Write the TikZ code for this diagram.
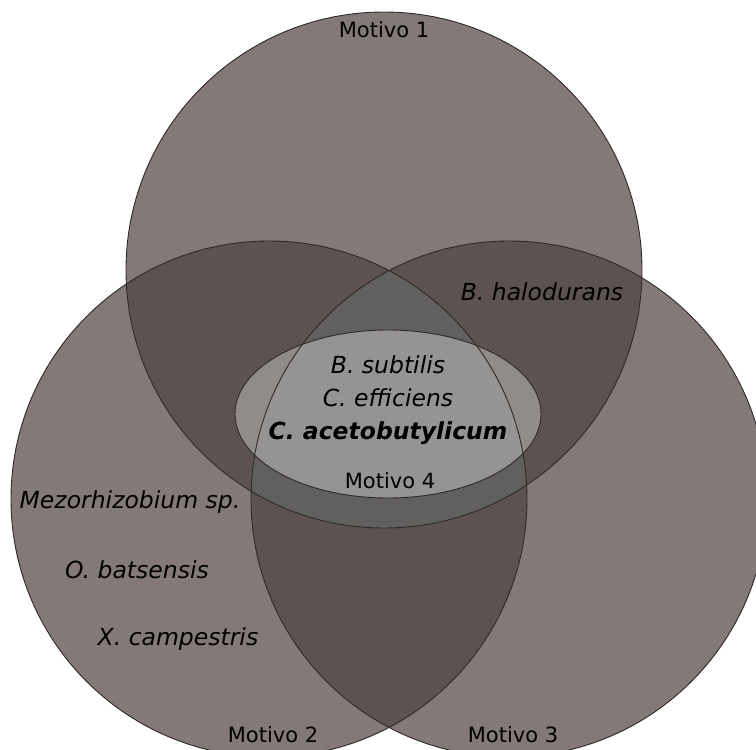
\documentclass[tikz,border=0pt]{standalone}
\usepackage{fontspec}
\setmainfont{DejaVu Sans}
\usetikzlibrary{positioning}

\definecolor{oneset}{HTML}{837A78}
\definecolor{twoset}{HTML}{5C5351}
\definecolor{threeset}{HTML}{62605F}
\definecolor{rim}{HTML}{2E2A29}

\begin{document}
\begin{tikzpicture}[
    x=1pt, y=-1pt,
    edge/.style={draw=rim, line width=0.9pt},
    mot/.style={font=\fontsize{21}{24}\selectfont, inner sep=1pt},
    sp/.style={font=\fontsize{23.5}{27}\selectfont\itshape, inner sep=2pt, text height=17pt, text depth=5pt}
]
    \useasboundingbox (0,0) rectangle (756,750);

    % Circle centres
    \coordinate (c1) at (384,270);
    \coordinate (c2) at (269,499);
    \coordinate (c3) at (509,499);
    \coordinate (e4) at (388,414);

    % Single sets
    \fill[oneset] (c1) circle[radius=258pt];
    \fill[oneset] (c2) circle[radius=258pt];
    \fill[oneset] (c3) circle[radius=258pt];

    % Pairwise overlaps
    \begin{scope}
        \clip (c1) circle[radius=258pt];
        \fill[twoset] (c2) circle[radius=258pt];
        \fill[twoset] (c3) circle[radius=258pt];
    \end{scope}
    \begin{scope}
        \clip (c2) circle[radius=258pt];
        \fill[twoset] (c3) circle[radius=258pt];
    \end{scope}

    % Triple overlap
    \begin{scope}
        \clip (c1) circle[radius=258pt];
        \clip (c2) circle[radius=258pt];
        \fill[threeset] (c3) circle[radius=258pt];
    \end{scope}

    % Motivo 4
    \fill[white, fill opacity=0.33] (e4) ellipse[x radius=153pt, y radius=84pt];

    % Outlines
    \draw[edge] (c1) circle[radius=258pt];
    \draw[edge] (c2) circle[radius=258pt];
    \draw[edge] (c3) circle[radius=258pt];
    \draw[edge] (e4) ellipse[x radius=153pt, y radius=84pt];

    % Set labels
    \node[mot] (m1) at (384,30) {Motivo 1};
    \node[mot] (m2) at (273,735) {Motivo 2};
    \node[mot] (m3) at (513,735) {Motivo 3};
    \node[mot] (m4) at (390,481) {Motivo 4};

    % Species
    \node[sp] (bsub) at (388,367) {B. subtilis};
    \node[sp, below=7pt of bsub] (ceff) {C. efficiens};
    \node[sp, below=7pt of ceff, font=\fontsize{23.5}{27}\selectfont\bfseries\itshape] (cacet) {C. acetobutylicum};
    \node[sp] (bhal) at (542,294) {B. halodurans};
    \node[sp] (mezo) at (130,502) {Mezorhizobium sp.};
    \node[sp] (obat) at (137,572) {O. batsensis};
    \node[sp] (xcam) at (178,639) {X. campestris};

\end{tikzpicture}
\end{document}
